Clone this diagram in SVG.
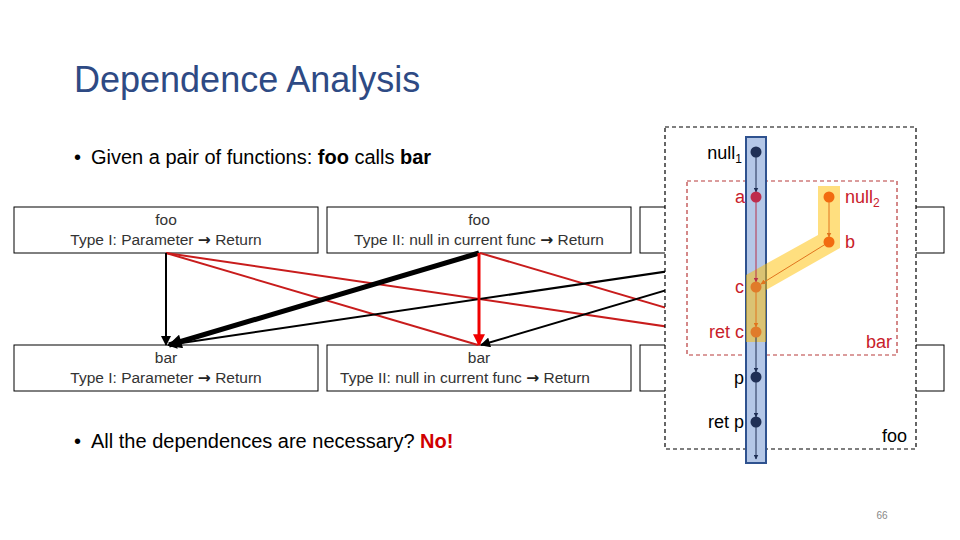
<svg xmlns="http://www.w3.org/2000/svg" width="960" height="540" viewBox="0 0 960 540">
<defs>
<style>
.t{font-family:"Liberation Sans",Arial,sans-serif}
.box rect{fill:#fff;stroke:#000;stroke-width:1}
.box text{font-family:"Liberation Sans",Arial,sans-serif;font-size:15.5px;fill:#333;text-anchor:middle}
.ar{font-family:"DejaVu Sans",sans-serif;font-weight:bold;fill:#222}
.pl{font-family:"Liberation Sans",Arial,sans-serif;font-size:18px}
</style>
<marker id="ab" viewBox="0 0 10 10" refX="9" refY="5" markerWidth="12" markerHeight="10" markerUnits="userSpaceOnUse" orient="auto"><path d="M0,0 L10,5 L0,10 Z" fill="#000"/></marker>
<marker id="abk" viewBox="0 0 10 10" refX="9" refY="5" markerWidth="16" markerHeight="14" markerUnits="userSpaceOnUse" orient="auto"><path d="M0,0 L10,5 L0,10 Z" fill="#000"/></marker>
<marker id="ar" viewBox="0 0 10 10" refX="9" refY="5" markerWidth="14" markerHeight="12" markerUnits="userSpaceOnUse" orient="auto"><path d="M0,0 L10,5 L0,10 Z" fill="#f00000"/></marker>
<marker id="sn" viewBox="0 0 10 10" refX="9" refY="5" markerWidth="5" markerHeight="5" markerUnits="userSpaceOnUse" orient="auto"><path d="M0,0 L10,5 L0,10 Z" fill="#1f2f55"/></marker>
<marker id="sr" viewBox="0 0 10 10" refX="9" refY="5" markerWidth="5" markerHeight="5" markerUnits="userSpaceOnUse" orient="auto"><path d="M0,0 L10,5 L0,10 Z" fill="#b8304a"/></marker>
<marker id="so" viewBox="0 0 10 10" refX="9" refY="5" markerWidth="5" markerHeight="5" markerUnits="userSpaceOnUse" orient="auto"><path d="M0,0 L10,5 L0,10 Z" fill="#e0741e"/></marker>
</defs>
<rect width="960" height="540" fill="#fff"/>
<text class="t" x="74" y="92" font-size="36" fill="#2e4a84">Dependence Analysis</text>
<text class="t" x="74" y="164" font-size="20" fill="#000">•<tspan x="91">Given a pair of functions: </tspan><tspan font-weight="bold">foo</tspan> calls <tspan font-weight="bold">bar</tspan></text>
<text class="t" x="74" y="448" font-size="20" fill="#000">•<tspan x="91">All the dependences are necessary? </tspan><tspan font-weight="bold" fill="#d00000">No!</tspan></text>
<g id="foo1" class="box"><rect x="14" y="207" width="304" height="46"/><text x="166" y="225">foo</text><text x="166" y="245">Type I: Parameter <tspan class="ar">→</tspan> Return</text></g>
<g id="foo2" class="box"><rect x="327" y="207" width="304" height="46"/><text x="479" y="225">foo</text><text x="479" y="245">Type II: null in current func <tspan class="ar">→</tspan> Return</text></g>
<g id="foo3" class="box"><rect x="640" y="207" width="304" height="46"/></g>
<g id="bar1" class="box"><rect x="14" y="345" width="304" height="46"/><text x="166" y="363">bar</text><text x="166" y="383">Type I: Parameter <tspan class="ar">→</tspan> Return</text></g>
<g id="bar2" class="box"><rect x="327" y="345" width="304" height="46"/><text x="479" y="363">bar</text><text x="465" y="383">Type II: null in current func <tspan class="ar">→</tspan> Return</text></g>
<g id="bar3" class="box"><rect x="640" y="345" width="304" height="46"/></g>
<g id="connectors" fill="none">
<line x1="166" y1="253" x2="478" y2="345" stroke="#c81c1c" stroke-width="2"/>
<line x1="166" y1="253" x2="792" y2="345" stroke="#c81c1c" stroke-width="2"/>
<line x1="480" y1="253" x2="792" y2="345" stroke="#c81c1c" stroke-width="2"/>
<line x1="166" y1="253" x2="166" y2="345" stroke="#000" stroke-width="2" marker-end="url(#ab)"/>
<line x1="792" y1="253" x2="168" y2="345" stroke="#000" stroke-width="2" marker-end="url(#ab)"/>
<line x1="792" y1="253" x2="481" y2="345" stroke="#000" stroke-width="2" marker-end="url(#ab)"/>
<line x1="479" y1="253" x2="169" y2="345" stroke="#000" stroke-width="5" marker-end="url(#abk)"/>
<line x1="479" y1="253" x2="479" y2="345" stroke="#f00000" stroke-width="3" marker-end="url(#ar)"/>
</g>
<g id="panel">
<rect x="665" y="127" width="251" height="322" fill="#fff" stroke="#000" stroke-width="1.2" stroke-dasharray="4 3"/>
<rect x="687" y="181" width="210" height="174" fill="none" stroke="#b83a3a" stroke-width="1.2" stroke-dasharray="4 3"/>
<rect id="bluebar" x="746" y="137" width="20" height="326" fill="#b4c7e7" stroke="#2f528f" stroke-width="2"/>
<polygon id="highlight" points="818,186 840,186 840,248 766,290 766,342 746,342 746,275 818,235" fill="#ffc000" opacity="0.5"/>
<line x1="756" y1="152" x2="756" y2="192" stroke="#1f2f55" stroke-width="1" marker-end="url(#sn)"/>
<line x1="756" y1="197" x2="756" y2="282" stroke="#b8304a" stroke-width="1" marker-end="url(#sr)"/>
<line x1="829" y1="197" x2="829" y2="237" stroke="#e0741e" stroke-width="1" marker-end="url(#so)"/>
<line x1="829" y1="242" x2="761" y2="284" stroke="#e0741e" stroke-width="1" marker-end="url(#so)"/>
<line x1="756" y1="287" x2="756" y2="327" stroke="#e0741e" stroke-width="1" marker-end="url(#so)"/>
<line x1="756" y1="332" x2="756" y2="372" stroke="#1f2f55" stroke-width="1" marker-end="url(#sn)"/>
<line x1="756" y1="377" x2="756" y2="417" stroke="#1f2f55" stroke-width="1" marker-end="url(#sn)"/>
<line x1="756" y1="422" x2="756" y2="459" stroke="#1f2f55" stroke-width="1" marker-end="url(#sn)"/>
<g id="n-null1"><circle cx="756" cy="152" r="5.5" fill="#1f2f55"/><text class="pl" x="742" y="159" text-anchor="end" fill="#000">null<tspan font-size="12" dy="4">1</tspan></text></g>
<g id="n-a"><circle cx="756" cy="197" r="5.5" fill="#be2c4c"/><text class="pl" x="745" y="203" text-anchor="end" fill="#c8202a">a</text></g>
<g id="n-null2"><circle cx="829" cy="197" r="5.5" fill="#f26b10"/><text class="pl" x="845" y="203" fill="#c8202a">null<tspan font-size="12" dy="4">2</tspan></text></g>
<g id="n-b"><circle cx="829" cy="242" r="5.5" fill="#f26b10"/><text class="pl" x="845" y="248" fill="#c8202a">b</text></g>
<g id="n-c"><circle cx="756" cy="287" r="5.5" fill="#e07b2a"/><text class="pl" x="744" y="293" text-anchor="end" fill="#c8202a">c</text></g>
<g id="n-retc"><circle cx="756" cy="332" r="5.5" fill="#e07b2a"/><text class="pl" x="744" y="338" text-anchor="end" fill="#c8202a">ret c</text></g>
<g id="n-p"><circle cx="756" cy="377" r="5.5" fill="#1f2f55"/><text class="pl" x="744" y="384" text-anchor="end" fill="#000">p</text></g>
<g id="n-retp"><circle cx="756" cy="422" r="5.5" fill="#1f2f55"/><text class="pl" x="744" y="428" text-anchor="end" fill="#000">ret p</text></g>
<text class="pl" x="892" y="348" text-anchor="end" fill="#c8202a">bar</text>
<text class="pl" x="907" y="442" text-anchor="end" fill="#000">foo</text>
</g>
<text class="t" x="882" y="519" font-size="10" fill="#888" text-anchor="middle">66</text>
</svg>
